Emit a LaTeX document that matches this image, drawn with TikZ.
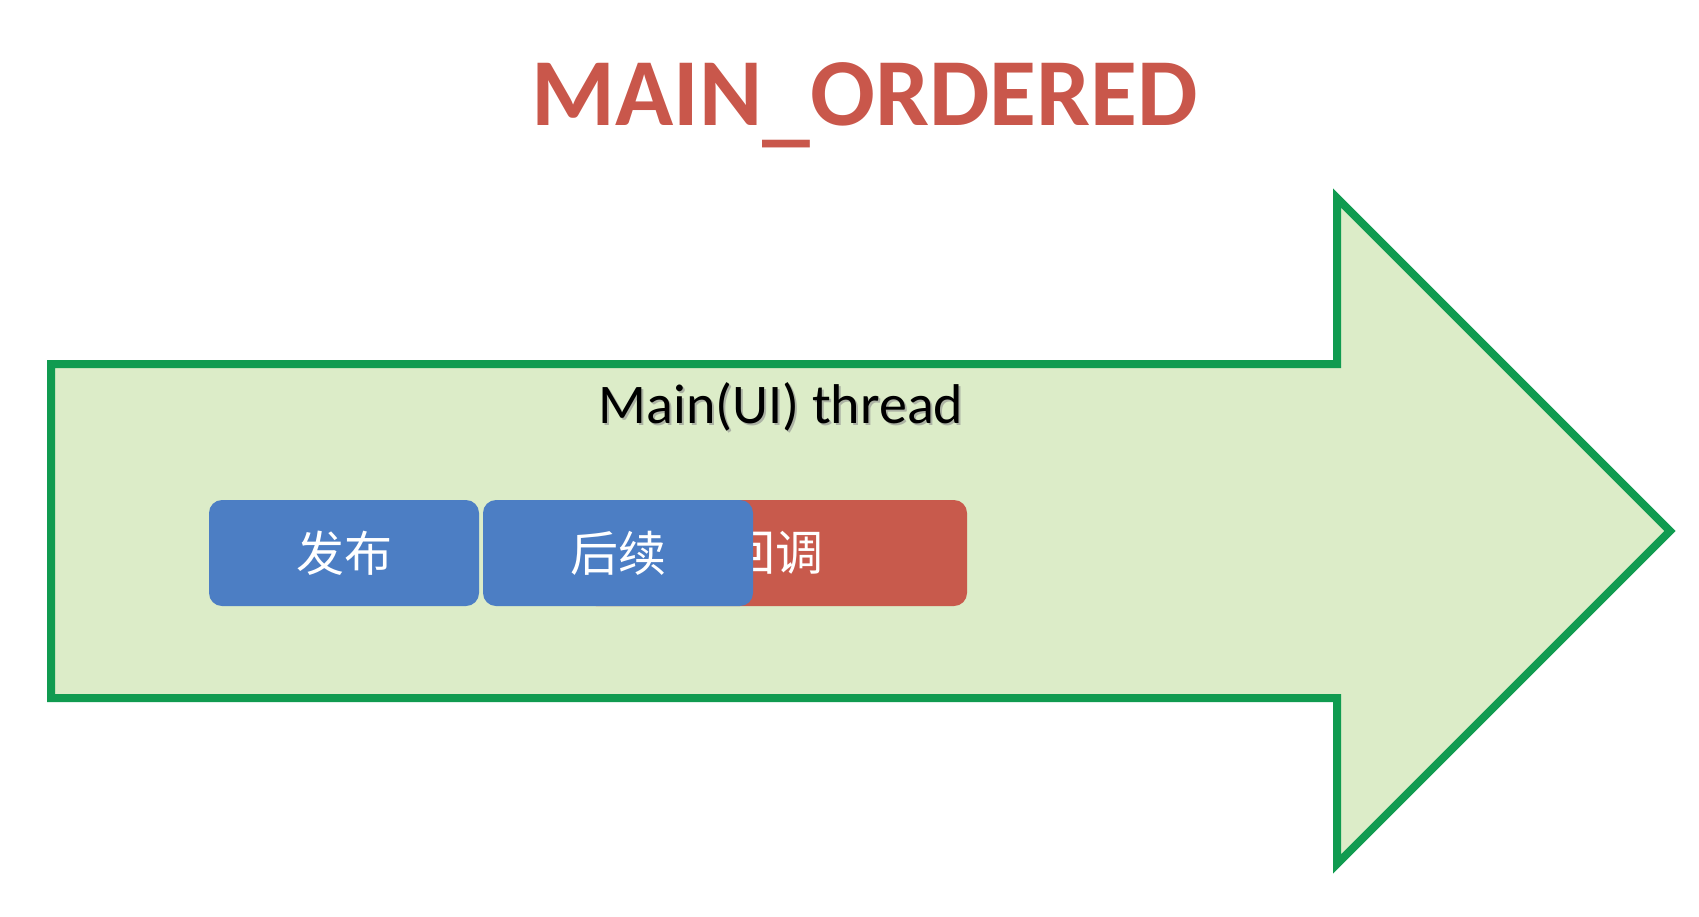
\documentclass[tikz,border=0pt]{standalone}
\usepackage{fontspec}
\setmainfont{Carlito}
\newfontfamily\cjk{Noto Sans CJK SC}
\usepackage{xcolor}
\usepackage{tikz}
\usetikzlibrary{positioning}

\definecolor{titlered}{RGB}{201,87,75}
\definecolor{arrowgreen}{RGB}{16,155,80}
\definecolor{arrowfill}{RGB}{220,236,200}
\definecolor{stepblue}{RGB}{76,126,196}
\definecolor{stepred}{RGB}{200,90,76}

\begin{document}
\begin{tikzpicture}[x=1pt,y=-1pt,node distance=4pt]
	\tikzstyle{stepbox}=[rounded corners=13pt, minimum width=270pt, minimum height=106pt, inner sep=0pt, outer sep=0pt, text=white, font=\cjk\fontsize{48}{50}\selectfont]
	\useasboundingbox (0,0) rectangle (1699,916);
	% the thread arrow
	\draw[arrowgreen, fill=arrowfill, line width=8pt, line join=miter]
		(51,364) -- (1337,364) -- (1337,198) -- (1670,531) -- (1337,864) -- (1337,698) -- (51,698) -- cycle;
	% title
	\node[text=titlered, font=\bfseries\fontsize{96}{100}\selectfont, anchor=base] (title) at (865,125) {MAIN\raisebox{-9pt}{\_}ORDERED};
	% thread label with its shadow
	\node[text=black!45, opacity=.6, font=\fontsize{56}{60}\selectfont, anchor=base] (threadshadow) at (783,425) {Main(UI) thread};
	\node[text=black, font=\fontsize{56}{60}\selectfont, anchor=base] (thread) at (781,423) {Main(UI) thread};
	% steps
	\node[stepbox, fill=stepred, minimum width=384pt] (callback) at (775,553) {回调};
	\node[stepbox, fill=stepblue] (post) at (344,553) {发布};
	\node[stepbox, fill=stepblue] (next) [right=of post] {后续};
\end{tikzpicture}
\end{document}
